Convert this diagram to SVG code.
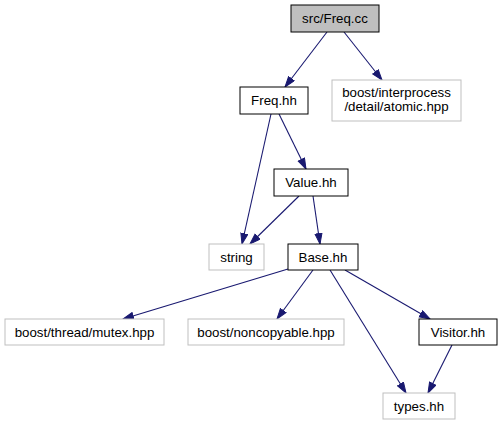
<svg xmlns="http://www.w3.org/2000/svg" width="502" height="425" viewBox="0 0 502 425">
<style>
.n rect{fill:#fff;stroke:#000;stroke-width:1}
.g rect{fill:#fff;stroke:#bfbfbf;stroke-width:1}
.root rect{fill:#bfbfbf;stroke:#000;stroke-width:1}
text{font-family:"Liberation Sans",Arial,sans-serif;font-size:13.3px;text-anchor:middle;fill:#000}
.e line{stroke:#191970;stroke-width:1.1;marker-end:url(#a)}
</style>
<defs>
<marker id="a" markerUnits="userSpaceOnUse" markerWidth="13" markerHeight="10" refX="11" refY="4" orient="auto">
<path d="M0.5,0.5 L11,4 L0.5,7.5 z" fill="#191970" stroke="#191970"/>
</marker>
</defs>
<rect width="502" height="425" fill="#fff"/>
<g class="e" id="edges">
<line x1="327" y1="32" x2="285" y2="87"/>
<line x1="344" y1="32" x2="382" y2="80"/>
<line x1="271" y1="114" x2="242" y2="244"/>
<line x1="279" y1="114" x2="306" y2="169"/>
<line x1="299" y1="196" x2="250" y2="244"/>
<line x1="313" y1="196" x2="320" y2="244"/>
<line x1="288" y1="269" x2="123" y2="319"/>
<line x1="313" y1="270" x2="277" y2="319"/>
<line x1="330" y1="270" x2="406" y2="393"/>
<line x1="345" y1="270" x2="430" y2="319"/>
<line x1="452" y1="345" x2="428" y2="393"/>
</g>
<g id="node_src_Freq_cc" class="root"><rect x="291" y="5" width="88" height="27"/><text x="335" y="23">src/Freq.cc</text></g>
<g id="node_Freq_hh" class="n"><rect x="240" y="87" width="68" height="27"/><text x="274" y="105">Freq.hh</text></g>
<g id="node_atomic" class="g"><rect x="332" y="80" width="129" height="41"/><text x="396.5" y="97">boost/interprocess</text><text x="396.5" y="111">/detail/atomic.hpp</text></g>
<g id="node_Value_hh" class="n"><rect x="274" y="169" width="74" height="27"/><text x="311" y="187">Value.hh</text></g>
<g id="node_string" class="g"><rect x="209" y="244" width="55" height="26"/><text x="236.5" y="262">string</text></g>
<g id="node_Base_hh" class="n"><rect x="288" y="244" width="70" height="26"/><text x="323" y="262">Base.hh</text></g>
<g id="node_mutex" class="g"><rect x="5" y="319" width="159" height="26"/><text x="84.5" y="337">boost/thread/mutex.hpp</text></g>
<g id="node_noncopyable" class="g"><rect x="188" y="319" width="156" height="26"/><text x="266" y="337">boost/noncopyable.hpp</text></g>
<g id="node_Visitor_hh" class="n"><rect x="419" y="319" width="78" height="26"/><text x="458" y="337">Visitor.hh</text></g>
<g id="node_types_hh" class="g"><rect x="383" y="393" width="72" height="26"/><text x="419" y="411">types.hh</text></g>
</svg>
